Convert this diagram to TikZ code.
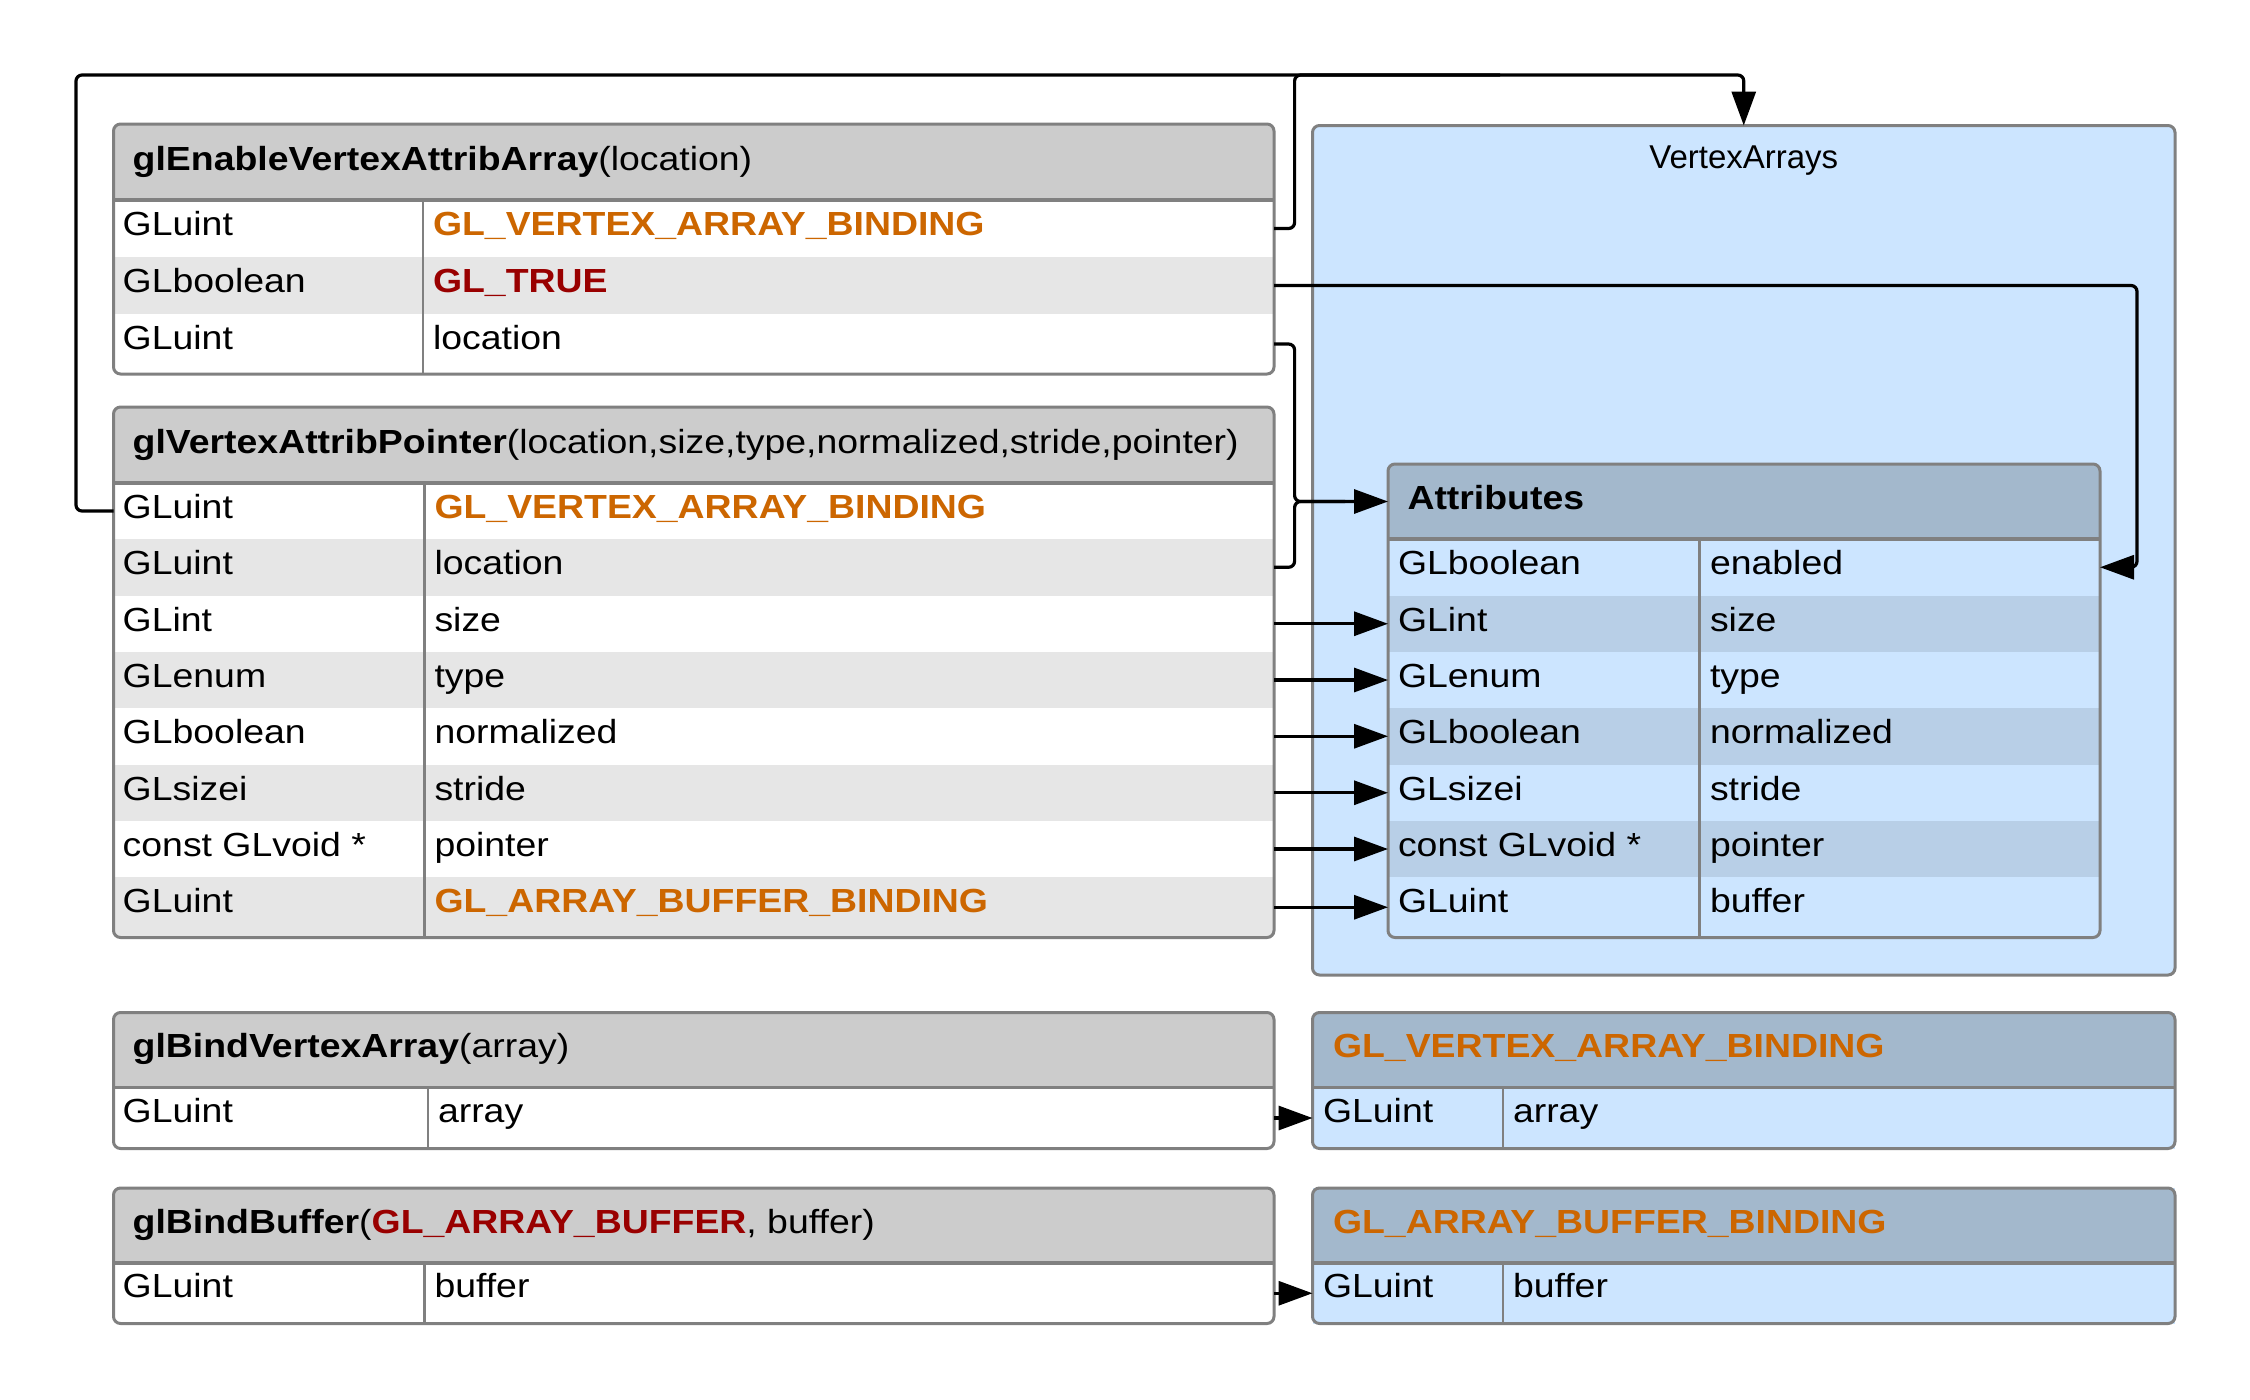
\documentclass[tikz,border=0pt]{standalone}
\usepackage{fontspec}
\setmainfont{Liberation Sans}
\newfontfamily\tabfamily[FakeStretch=1.12]{Liberation Sans}
\usetikzlibrary{fit,arrows.meta}
\definecolor{hdrgray}{HTML}{CCCCCC}
\definecolor{rowgray}{HTML}{E6E6E6}
\definecolor{bordergray}{HTML}{808080}
\definecolor{vabg}{HTML}{CCE5FF}
\definecolor{bluehdr}{HTML}{A3B8CC}
\definecolor{bluerow}{HTML}{B8CFE7}
\definecolor{glorange}{HTML}{CC6600}
\definecolor{glred}{HTML}{990000}
\newcommand\tabtxt{\fontsize{16.7}{20}\selectfont\tabfamily}
\newcommand\plaintxt{\fontsize{16.5}{20}\selectfont\rmfamily}
\newcommand\orng[1]{\textcolor{glorange}{\textbf{#1}}}
\newcommand\rownode[6]{\node[cell, fill=#2, fit={(#3,#4)(#5,#6)}] (#1) {};}
\tikzset{
  cell/.style={inner sep=0pt, outer sep=0pt, draw=none},
  border/.style={draw=bordergray, line width=1.5pt, rounded corners=3.5pt},
  sepline/.style={draw=bordergray, line width=1.6pt},
  divline/.style={draw=bordergray, line width=1.3pt},
  txt/.style={inner sep=0pt, outer sep=0pt, anchor=base west, font=\tabtxt},
  conn/.style={draw=black, line width=1.6pt, rounded corners=3pt},
  arr/.style={conn, -{Triangle[length=17pt,width=12pt]}},
}
\begin{document}
\begin{tikzpicture}[x=0.5pt,y=-0.5pt]
\useasboundingbox (0,0) rectangle (2250,1399);

% ---------- glEnableVertexAttribArray ----------
\node[cell, fill=white, rounded corners=3.5pt, fit={(113.5,124)(1274,374)}] (e1) {};
\begin{scope}
  \clip[rounded corners=3.5pt] (113.5,124) rectangle (1274,374);
  \rownode{e1h}{hdrgray}{113.5}{124}{1274}{200}
  \rownode{e1r1}{white}{113.5}{200}{1274}{257}
  \rownode{e1r2}{rowgray}{113.5}{257}{1274}{314}
  \rownode{e1r3}{white}{113.5}{314}{1274}{374}
\end{scope}
\draw[sepline] (113.5,200) -- (1274,200);
\draw[divline] (423,200) -- (423,374);
\draw[border] (e1.north west) rectangle (e1.south east);
\node[txt] (e1ht) at (132.7,170) {\textbf{glEnableVertexAttribArray}(location)};
\node[txt] (e1a1) at (122.7,235) {GLuint};
\node[txt] (e1b1) at (433,235) {\orng{GL\_VERTEX\_ARRAY\_BINDING}};
\node[txt] (e1a2) at (122.7,292) {GLboolean};
\node[txt] (e1b2) at (433,292) {\textcolor{glred}{\textbf{GL\_TRUE}}};
\node[txt] (e1a3) at (122.7,349) {GLuint};
\node[txt] (e1b3) at (433,349) {location};

% ---------- glVertexAttribPointer ----------
\node[cell, fill=white, fit={(113.5,407)(1274,937.5)}] (p2) {};
\begin{scope}
  \clip[rounded corners=3.5pt] (113.5,407) rectangle (1274,937.5);
  \rownode{p2h}{hdrgray}{113.5}{407}{1274}{483}
  \rownode{p2r1}{white}{113.5}{483}{1274}{539}
  \rownode{p2r2}{rowgray}{113.5}{539}{1274}{595.5}
  \rownode{p2r3}{white}{113.5}{595.5}{1274}{652}
  \rownode{p2r4}{rowgray}{113.5}{652}{1274}{708}
  \rownode{p2r5}{white}{113.5}{708}{1274}{764.5}
  \rownode{p2r6}{rowgray}{113.5}{764.5}{1274}{821}
  \rownode{p2r7}{white}{113.5}{821}{1274}{877}
  \rownode{p2r8}{rowgray}{113.5}{877}{1274}{937.5}
\end{scope}
\draw[sepline] (113.5,483) -- (1274,483);
\draw[divline] (424.5,483) -- (424.5,937.5);
\draw[border] (p2.north west) rectangle (p2.south east);
\node[txt] (p2ht) at (132.7,453) {\textbf{glVertexAttribPointer}(location,size,type,normalized,stride,pointer)};
\node[txt] (p2a1) at (122.7,518.5) {GLuint};
\node[txt] (p2b1) at (434.5,518.5) {\orng{GL\_VERTEX\_ARRAY\_BINDING}};
\node[txt] (p2a2) at (122.7,574.5) {GLuint};
\node[txt] (p2b2) at (434.5,574.5) {location};
\node[txt] (p2a3) at (122.7,631) {GLint};
\node[txt] (p2b3) at (434.5,631) {size};
\node[txt] (p2a4) at (122.7,687.5) {GLenum};
\node[txt] (p2b4) at (434.5,687.5) {type};
\node[txt] (p2a5) at (122.7,743.5) {GLboolean};
\node[txt] (p2b5) at (434.5,743.5) {normalized};
\node[txt] (p2a6) at (122.7,800) {GLsizei};
\node[txt] (p2b6) at (434.5,800) {stride};
\node[txt] (p2a7) at (122.7,856.5) {const GLvoid *};
\node[txt] (p2b7) at (434.5,856.5) {pointer};
\node[txt] (p2a8) at (122.7,912.5) {GLuint};
\node[txt] (p2b8) at (434.5,912.5) {\orng{GL\_ARRAY\_BUFFER\_BINDING}};

% ---------- glBindVertexArray ----------
\node[cell, fill=white, fit={(113.5,1012.5)(1274,1148.5)}] (b3) {};
\begin{scope}
  \clip[rounded corners=3.5pt] (113.5,1012.5) rectangle (1274,1148.5);
  \rownode{b3h}{hdrgray}{113.5}{1012.5}{1274}{1087.5}
  \rownode{b3r1}{white}{113.5}{1087.5}{1274}{1148.5}
\end{scope}
\draw[sepline] (113.5,1087.5) -- (1274,1087.5);
\draw[divline] (428,1087.5) -- (428,1148.5);
\draw[border] (b3.north west) rectangle (b3.south east);
\node[txt] (b3ht) at (132.7,1057.5) {\textbf{glBindVertexArray}(array)};
\node[txt] (b3a1) at (122.7,1122) {GLuint};
\node[txt] (b3b1) at (438,1122) {array};

% ---------- glBindBuffer ----------
\node[cell, fill=white, fit={(113.5,1188)(1274,1323.5)}] (b4) {};
\begin{scope}
  \clip[rounded corners=3.5pt] (113.5,1188) rectangle (1274,1323.5);
  \rownode{b4h}{hdrgray}{113.5}{1188}{1274}{1263}
  \rownode{b4r1}{white}{113.5}{1263}{1274}{1323.5}
\end{scope}
\draw[sepline] (113.5,1263) -- (1274,1263);
\draw[divline] (424.5,1263) -- (424.5,1323.5);
\draw[border] (b4.north west) rectangle (b4.south east);
\node[txt] (b4ht) at (132.7,1233) {\textbf{glBindBuffer}(\textcolor{glred}{\textbf{GL\_ARRAY\_BUFFER}}, buffer)};
\node[txt] (b4a1) at (122.7,1297.5) {GLuint};
\node[txt] (b4b1) at (434.5,1297.5) {buffer};

% ---------- VertexArrays ----------
\node[cell, fill=vabg, border, fit={(1312.5,125.5)(2175,975)}] (va) {};
\node[inner sep=0pt, anchor=base, font=\plaintxt] (vat) at (1743.75,168.5) {VertexArrays};

% ---------- Attributes ----------
\node[cell, fill=vabg, fit={(1388,464)(2100,937.5)}] (at) {};
\begin{scope}
  \clip[rounded corners=3.5pt] (1388,464) rectangle (2100,937.5);
  \rownode{ath}{bluehdr}{1388}{464}{2100}{539}
  \rownode{atr1}{vabg}{1388}{539}{2100}{595.5}
  \rownode{atr2}{bluerow}{1388}{595.5}{2100}{652}
  \rownode{atr3}{vabg}{1388}{652}{2100}{708}
  \rownode{atr4}{bluerow}{1388}{708}{2100}{764.5}
  \rownode{atr5}{vabg}{1388}{764.5}{2100}{821}
  \rownode{atr6}{bluerow}{1388}{821}{2100}{877}
  \rownode{atr7}{vabg}{1388}{877}{2100}{937.5}
\end{scope}
\draw[sepline] (1388,539) -- (2100,539);
\draw[divline] (1699.6,539) -- (1699.6,937.5);
\draw[border] (at.north west) rectangle (at.south east);
\node[txt] (atht) at (1407.5,509) {\textbf{Attributes}};
\node[txt] (ata1) at (1398,574.5) {GLboolean};
\node[txt] (atb1) at (1710,574.5) {enabled};
\node[txt] (ata2) at (1398,631) {GLint};
\node[txt] (atb2) at (1710,631) {size};
\node[txt] (ata3) at (1398,687.5) {GLenum};
\node[txt] (atb3) at (1710,687.5) {type};
\node[txt] (ata4) at (1398,743.5) {GLboolean};
\node[txt] (atb4) at (1710,743.5) {normalized};
\node[txt] (ata5) at (1398,800) {GLsizei};
\node[txt] (atb5) at (1710,800) {stride};
\node[txt] (ata6) at (1398,856.5) {const GLvoid *};
\node[txt] (atb6) at (1710,856.5) {pointer};
\node[txt] (ata7) at (1398,912.5) {GLuint};
\node[txt] (atb7) at (1710,912.5) {buffer};

% ---------- GL_VERTEX_ARRAY_BINDING ----------
\node[cell, fill=vabg, fit={(1312.5,1012.5)(2175,1148.5)}] (vab) {};
\begin{scope}
  \clip[rounded corners=3.5pt] (1312.5,1012.5) rectangle (2175,1148.5);
  \rownode{vabh}{bluehdr}{1312.5}{1012.5}{2175}{1087.5}
  \rownode{vabr}{vabg}{1312.5}{1087.5}{2175}{1148.5}
\end{scope}
\draw[sepline] (1312.5,1087.5) -- (2175,1087.5);
\draw[divline] (1503,1087.5) -- (1503,1148.5);
\draw[border] (vab.north west) rectangle (vab.south east);
\node[txt] (vabht) at (1333,1057.5) {\orng{GL\_VERTEX\_ARRAY\_BINDING}};
\node[txt] (vaba) at (1323,1122) {GLuint};
\node[txt] (vabb) at (1513,1122) {array};

% ---------- GL_ARRAY_BUFFER_BINDING ----------
\node[cell, fill=vabg, fit={(1312.5,1188)(2175,1323.5)}] (abb) {};
\begin{scope}
  \clip[rounded corners=3.5pt] (1312.5,1188) rectangle (2175,1323.5);
  \rownode{abbh}{bluehdr}{1312.5}{1188}{2175}{1263}
  \rownode{abbr}{vabg}{1312.5}{1263}{2175}{1323.5}
\end{scope}
\draw[sepline] (1312.5,1263) -- (2175,1263);
\draw[divline] (1503,1263) -- (1503,1323.5);
\draw[border] (abb.north west) rectangle (abb.south east);
\node[txt] (abbht) at (1333,1233) {\orng{GL\_ARRAY\_BUFFER\_BINDING}};
\node[txt] (abba) at (1323,1297.5) {GLuint};
\node[txt] (abbb) at (1513,1297.5) {buffer};

% ---------- connectors ----------
\coordinate (lx) at (76,0);
\coordinate (jx) at (1294.6,0);
\coordinate (rx) at (2137,0);
\coordinate (ty) at (0,75);
\coordinate (mx) at (1500,0);
\coordinate (kx) at (1345,0);

\draw[arr] (p2r1.west) -- (p2r1.west -| lx) |- (ty -| va.north) -- (va.north);
\draw[conn] (e1r1.east) -- (e1r1.east -| jx) |- (ty -| mx);
\draw[arr] (e1r3.east) -- (e1r3.east -| jx) |- (ath.west);
\draw[conn] (p2r2.east) -- (p2r2.east -| jx) |- (ath.west -| kx);
\draw[arr] (e1r2.east) -- (e1r2.east -| rx) |- (atr1.east);
\draw[arr] (p2r3.east) -- (atr2.west);
\draw[arr] (p2r4.east) -- (atr3.west);
\draw[arr] (p2r5.east) -- (atr4.west);
\draw[arr] (p2r6.east) -- (atr5.west);
\draw[arr] (p2r7.east) -- (atr6.west);
\draw[arr] (p2r8.east) -- (atr7.west);
\draw[arr] (b3r1.east) -- (vabr.west);
\draw[arr] (b4r1.east) -- (abbr.west);
\end{tikzpicture}
\end{document}
